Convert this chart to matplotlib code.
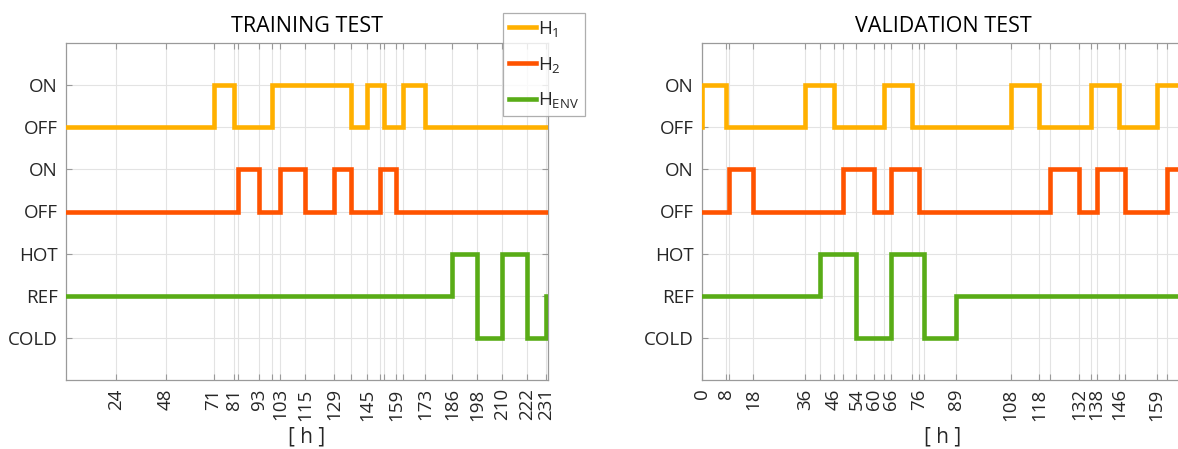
import matplotlib
matplotlib.use("Agg")
import matplotlib.pyplot as plt
import numpy as np

plt.rcParams['font.family'] = ['Open Sans', 'DejaVu Sans']
plt.rcParams['mathtext.fontset'] = 'custom'
plt.rcParams['mathtext.rm'] = 'Open Sans'
plt.rcParams['mathtext.it'] = 'Open Sans'

# ---- level names (y axis) ----
level_labels = ["COLD", "REF", "HOT", "OFF", "ON", "OFF", "ON"]
level_values = [1, 2, 3, 4, 5, 6, 7]
COLD, REF, HOT, OFF2, ON2, OFF1, ON1 = level_values

# ---- TRAINING TEST ----
train_h1_t = [0, 71, 81, 99, 137, 145, 153, 162, 173]
train_h1_s = [OFF1, ON1, OFF1, ON1, OFF1, ON1, OFF1, ON1, OFF1]
train_h2_t = [0, 83, 93, 103, 115, 129, 137, 151, 159]
train_h2_s = [OFF2, ON2, OFF2, ON2, OFF2, ON2, OFF2, ON2, OFF2]
train_env_t = [0, 186, 198, 210, 222, 231]
train_env_s = [REF, HOT, COLD, HOT, COLD, REF]
train_end = 232
train_labeled_ticks = [24, 48, 71, 81, 93, 103, 115, 129, 145, 159, 173, 186, 198, 210, 222, 231]
train_extra_ticks = [83, 99, 137, 151, 153, 162]

# ---- VALIDATION TEST ----
val_h1_t = [0, 0, 8.5, 36, 46, 63.7, 73.6, 108, 118, 136, 146, 159]
val_h1_s = [OFF1, ON1, OFF1, ON1, OFF1, ON1, OFF1, ON1, OFF1, ON1, OFF1, ON1]
val_h2_t = [0, 9.3, 18, 49.3, 60, 66, 76, 121.9, 132, 138, 147.8, 162.7]
val_h2_s = [OFF2, ON2, OFF2, ON2, OFF2, ON2, OFF2, ON2, OFF2, ON2, OFF2, ON2]
val_env_t = [0, 41.4, 54, 66, 77.6, 89]
val_env_s = [REF, HOT, COLD, HOT, COLD, REF]
val_end = 168.6
val_labeled_ticks = [0, 8.5, 18, 36, 46, 54, 60, 66, 76, 89, 108, 118, 132, 138, 146, 159]
val_labeled_text = ["0", "8", "18", "36", "46", "54", "60", "66", "76", "89", "108", "118", "132", "138", "146", "159"]
val_extra_ticks = [9.3, 41.4, 49.3, 63.7, 73.6, 77.6, 121.9, 136, 147.8, 162.7]

series_names = [r"H$_\mathregular{1}$", r"H$_\mathregular{2}$", r"H$_\mathregular{ENV}$"]

C_H1 = "#FFB000"
C_H2 = "#FF5300"
C_ENV = "#59AC17"
LW = 3.3
TXT = "#262626"
SPINE = "#9a9a9a"

W, H = 1178, 449
fig = plt.figure(figsize=(W / 100, H / 100), dpi=100)


def ax_rect(x0, x1, y0, y1):
    return [x0 / W, 1 - y1 / H, (x1 - x0) / W, (y1 - y0) / H]


def step_xy(t, s, end):
    x = list(t) + [end]
    y = list(s) + [s[-1]]
    return x, y


def draw(ax, series, end, labeled, labeled_txt, extra, title):
    for (t, s, c, name) in series:
        x, y = step_xy(t, s, end)
        ax.step(x, y, where="post", color=c, lw=LW, label=name,
                solid_joinstyle="miter", zorder=3)
    ax.set_xlim(0, end)
    ax.set_ylim(0, 8)
    ax.set_yticks(level_values)
    ax.set_yticklabels(level_labels)
    ticks = list(labeled) + list(extra)
    texts = list(labeled_txt) + [""] * len(extra)
    order = np.argsort(ticks, kind="stable")
    ax.set_xticks([ticks[i] for i in order])
    ax.set_xticklabels([texts[i] for i in order], rotation=90)
    ax.grid(True, color="#e3e3e3", lw=0.8, zorder=0)
    ax.tick_params(direction="in", length=4, width=0.8, color=SPINE,
                   labelcolor=TXT, labelsize=13.5, top=True, right=True)
    ax.tick_params(axis="y", pad=6)
    ax.tick_params(axis="x", pad=6)
    for sp in ax.spines.values():
        sp.set_color(SPINE)
        sp.set_linewidth(0.9)
    ax.set_title(title, fontsize=15.5, color="black", pad=8)
    ax.set_xlabel("[ h ]", fontsize=15, color=TXT, labelpad=4)


ax1 = fig.add_axes(ax_rect(66, 548, 43, 380))
draw(ax1,
     [(train_h1_t, train_h1_s, C_H1, series_names[0]),
      (train_h2_t, train_h2_s, C_H2, series_names[1]),
      (train_env_t, train_env_s, C_ENV, series_names[2])],
     train_end, train_labeled_ticks, [str(v) for v in train_labeled_ticks],
     train_extra_ticks, "TRAINING TEST")

ax2 = fig.add_axes(ax_rect(702, 1184, 43, 380))
draw(ax2,
     [(val_h1_t, val_h1_s, C_H1, series_names[0]),
      (val_h2_t, val_h2_s, C_H2, series_names[1]),
      (val_env_t, val_env_s, C_ENV, series_names[2])],
     val_end, val_labeled_ticks, val_labeled_text, val_extra_ticks,
     "VALIDATION TEST")

leg = fig.legend(*ax1.get_legend_handles_labels(),
                 loc="upper left", bbox_to_anchor=(503 / W, 1 - 13 / H),
                 frameon=True, fancybox=False, fontsize=13.5,
                 handlelength=1.45, handletextpad=0.12, borderpad=0.3,
                 labelspacing=0.85, borderaxespad=0)
leg.get_frame().set_edgecolor(SPINE)
leg.get_frame().set_linewidth(0.9)
for t in leg.get_texts():
    t.set_color(TXT)

fig.savefig("out.png", dpi=100)
